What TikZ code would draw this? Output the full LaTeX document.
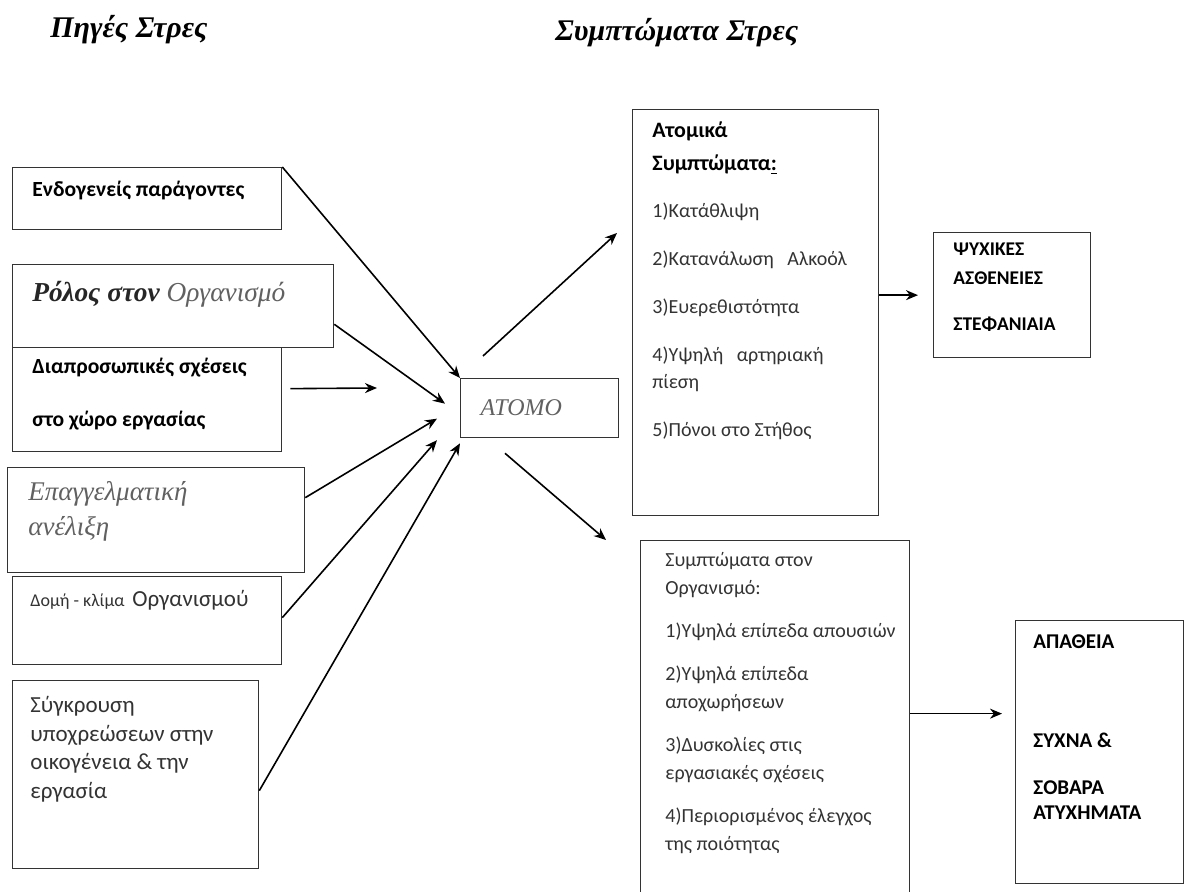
\documentclass[tikz,border=0pt]{standalone}
\usepackage{fontspec}
\setmainfont{Liberation Serif}
\newfontfamily\bodyfont{Carlito}
\usetikzlibrary{arrows.meta,positioning}

\begin{document}
\begin{tikzpicture}[
    x=0.5pt, y=-0.5pt,
    box/.style={draw=black!80, line width=0.65pt, anchor=north west, inner sep=0pt},
    txt/.style={anchor=north west, align=left, inner sep=0pt, text=black!80, font=\bodyfont\fontsize{10}{13.5}\selectfont},
    bld/.style={txt, text=black, font=\bodyfont\bfseries\fontsize{10.8}{12}\selectfont},
    caps/.style={txt, text=black, font=\bodyfont\bfseries\fontsize{9.7}{14.5}\selectfont},
    ital/.style={txt, text=black!62, font=\itshape\fontsize{13.5}{17.5}\selectfont},
    title/.style={anchor=west, inner sep=0pt, font=\bfseries\itshape\fontsize{15}{17}\selectfont},
    arr/.style={-{Stealth[length=6pt, width=5pt]}, line width=0.8pt},
]
\path[use as bounding box, clip] (0,0) rectangle (1188,892);

% Titles
\node[title] (src-title) at (50,30) {Πηγές Στρες};
\node[title] (sym-title) at (555,33) {Συμπτώματα Στρες};

% Sources (left column)
\node[box, minimum width=134.5pt, minimum height=31pt] (endo) at (12,167) {};
\node[bld] (endo-t) at (32,181) {Ενδογενείς παράγοντες};

\node[box, minimum width=160.5pt, minimum height=41.5pt] (rolos) at (12,264) {};
\node[ital, font=\itshape\fontsize{13.7}{15}\selectfont] (rolos-t) at (32,281) {{\bfseries\color{black!85}Ρόλος στον} Οργανισμό};

\node[box, minimum width=134.5pt, minimum height=52pt] (diap) at (12,347) {};
\node[bld, font=\bodyfont\bfseries\fontsize{10.8}{26.5}\selectfont] (diap-t) at (32,358) {Διαπροσωπικές σχέσεις\\στο χώρο εργασίας};

\node[box, minimum width=148.5pt, minimum height=52.5pt] (epag) at (7,467) {};
\node[ital] (epag-t) at (28,481) {Επαγγελματική\\ανέλιξη};

\node[box, minimum width=134.5pt, minimum height=44pt] (domi) at (12,576) {};
\node[txt] (domi-t) at (30,590) {{\fontsize{9}{10}\selectfont Δομή - κλίμα}\, {\fontsize{11.5}{12}\selectfont Οργανισμού}};

\node[box, minimum width=123pt, minimum height=94pt] (sygk) at (12,680) {};
\node[txt, font=\bodyfont\fontsize{11.5}{14.25}\selectfont] (sygk-t) at (30,696) {Σύγκρουση\\υποχρεώσεων στην\\οικογένεια \& την\\εργασία};

% Person
\node[box, ital, font=\itshape\fontsize{12}{14}\selectfont, anchor=north west, minimum width=79pt, minimum height=29.5pt, inner xsep=10pt, inner ysep=0pt, text width=59pt] (atomo) at (460,378) {ATOMO};

% Individual symptoms
\node[box, minimum width=123pt, minimum height=203pt] (atom) at (632,109) {};
\node[bld, font=\bodyfont\bfseries\fontsize{11}{16.5}\selectfont] (atom-h) at (652,121) {Ατομικά\\Συμπτώματα\underline{:}};
\node[txt] (atom-l) at (652,202) {1)Κατάθλιψη\\[10.5pt]2)Κατανάλωση\ \ \ Αλκοόλ\\[10.5pt]3)Ευερεθιστότητα\\[10.5pt]4)Υψηλή\ \ \ αρτηριακή\\πίεση\\[10.5pt]5)Πόνοι στο Στήθος};

\node[box, minimum width=78.5pt, minimum height=62.5pt] (psy) at (933,232) {};
\node[caps] (psy-t) at (953,243) {ΨΥΧΙΚΕΣ\\ΑΣΘΕΝΕΙΕΣ\\[8.5pt]ΣΤΕΦΑΝΙΑΙΑ};

% Organisational symptoms
\node[box, minimum width=134.5pt, minimum height=190pt] (org) at (640,540) {};
\node[txt, font=\bodyfont\fontsize{10}{14}\selectfont] (org-t) at (665,552) {Συμπτώματα στον\\Οργανισμό:\\[7.5pt]1)Υψηλά επίπεδα απουσιών\\[7.5pt]2)Υψηλά επίπεδα\\αποχωρήσεων\\[7.5pt]3)Δυσκολίες στις\\εργασιακές σχέσεις\\[7.5pt]4)Περιορισμένος έλεγχος\\της ποιότητας};

\node[box, minimum width=84pt, minimum height=131.5pt] (apa) at (1015,620) {};
\node[caps, font=\bodyfont\bfseries\fontsize{10.5}{12.5}\selectfont] (apa-t) at (1033,634) {ΑΠΑΘΕΙΑ\\[37pt]ΣΥΧΝΑ \&\\[11pt]ΣΟΒΑΡΑ\\ΑΤΥΧΗΜΑΤΑ};

% Free arrow ends
\coordinate (diap-end) at (377,388);
\coordinate (up-end) at (617,233);

% Arrows into the person
\draw[arr] (endo.north east) -- (atomo.north west);
\draw[arr] ([yshift=12pt]rolos.south east) -- ([xshift=-7.5pt,yshift=2.25pt]atomo.west);
\draw[arr] ([xshift=4pt,yshift=5.5pt]diap.east) -- (diap-end);
\draw[arr] ([yshift=11.25pt]epag.east) -- ([xshift=-11.5pt,yshift=-5.25pt]atomo.west);
\draw[arr] ([yshift=1.5pt]domi.east) -- ([xshift=-11.5pt,yshift=-16pt]atomo.west);
\draw[arr] ([yshift=-8pt]sygk.east) -- ([yshift=-2.5pt]atomo.south west);

% Arrows out of the person
\draw[arr] ([xshift=11.5pt,yshift=11pt]atomo.north west) -- (up-end);
\draw[arr] ([xshift=22.5pt,yshift=-7.5pt]atomo.south west) -- ([xshift=-17pt]org.north west);

% Consequences
\draw[arr] (atom.east |- psy.west) -- ([xshift=-7.5pt]psy.west);
\draw[arr] ([yshift=8.5pt]org.east) -- ([xshift=-6.5pt,yshift=19.25pt]apa.west);
\end{tikzpicture}
\end{document}
